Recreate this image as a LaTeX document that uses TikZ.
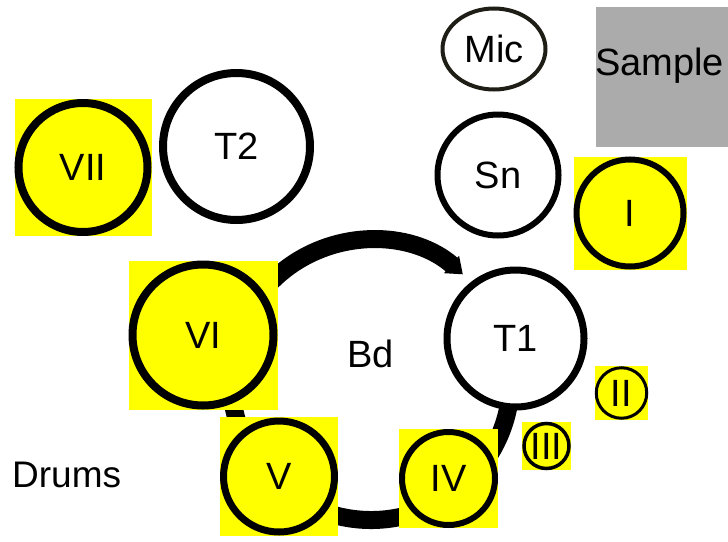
\documentclass[tikz,border=0pt]{standalone}
\usepackage{fontspec}
\setmainfont{Liberation Sans}
\usetikzlibrary{arrows.meta,shapes.geometric}
\definecolor{micline}{RGB}{30,30,22}
\definecolor{samplegray}{RGB}{171,171,171}
\definecolor{boxyellow}{RGB}{255,255,0}
\begin{document}
\begin{tikzpicture}[x=1pt,y=-1pt,
  lbl/.style={font=\fontsize{38}{45}\selectfont, text=black},
  ybox/.style={fill=boxyellow, draw=none, inner sep=0pt, minimum size=#1},
  ringnode/.style={circle, draw=black, inner sep=0pt, lbl},
  whitering/.style={ringnode, fill=white},
  bdring/.style={line width=18pt, draw=black, -{Triangle[length=15pt,width=22pt]}}
]
\useasboundingbox (0,0) rectangle (728,541);

% Bass drum label and ring
\node[lbl, anchor=base, inner sep=0pt] (Bd) at (370.5,367) {Bd};
\coordinate (bdc) at (371,380);
\draw[bdring] ([shift={(35:140pt)}]bdc) arc[start angle=35, end angle=-311, radius=140pt];

% Sample box
\node[fill=samplegray, draw=none, inner sep=0pt, minimum width=170pt, minimum height=140pt, anchor=north west] (Sample) at (596,7) {};
\node[lbl, anchor=base west, inner sep=0pt] (samplelabel) at (595,75) {Sample};

% Mic
\node[ellipse, draw=micline, line width=4pt, inner sep=0pt, minimum width=103pt, minimum height=81pt, lbl] (Mic) at (494,49) {Mic};

% White drums
\node[whitering, line width=8pt, minimum size=147pt] (T2) at (236.5,146.5) {T2};
\node[whitering, line width=6pt, minimum size=121pt] (Sn) at (498,175) {Sn};
\node[whitering, line width=7pt, minimum size=137pt] (T1) at (515.5,338.5) {T1};

% Yellow numbered pads
\node[ybox=137pt] (VIIbox) at (83,167.5) {};
\node[ringnode, line width=8pt, minimum size=129pt] (VII) at (VIIbox.center) {VII};

\node[ybox=149pt] (VIbox) at (203,335) {};
\node[ringnode, line width=8pt, minimum size=141pt] (VI) at (VIbox.center) {VI};

\node[ybox=118.5pt] (Vbox) at (279,476.5) {};
\node[ringnode, line width=7pt, minimum size=111pt] (V) at (Vbox.center) {V};

\node[ybox=99pt] (IVbox) at (448.5,478.5) {};
\node[ringnode, line width=6pt, minimum size=93pt] (IV) at (IVbox.center) {IV};

\node[ybox=48.5pt] (IIIbox) at (546.5,446) {};
\node[ringnode, line width=3.5pt, minimum size=45pt] (III) at (IIIbox.center) {III};

\node[ybox=53.5pt] (IIbox) at (621.5,393) {};
\node[ringnode, line width=3pt, minimum size=50.5pt] (II) at (IIbox.center) {II};

\node[ybox=113pt] (Ibox) at (630,213) {};
\node[ringnode, line width=6pt, minimum size=107pt] (I) at (Ibox.center) {I};

% Drums caption
\node[lbl, anchor=base west, inner sep=0pt, font=\fontsize{37}{44}\selectfont] (drums) at (12,487) {Drums};
\end{tikzpicture}
\end{document}
